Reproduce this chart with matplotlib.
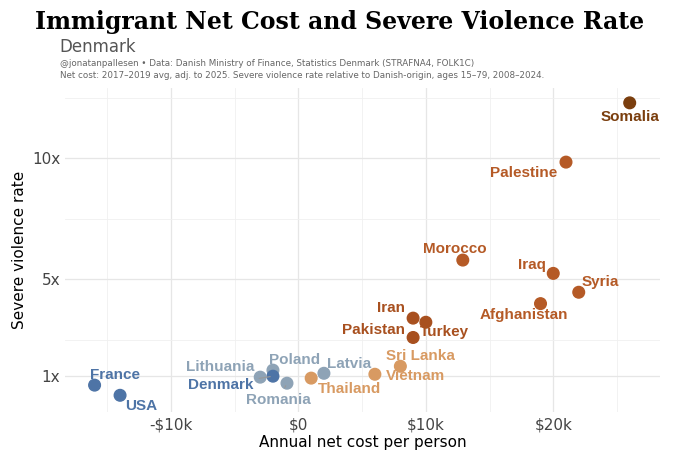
import matplotlib.pyplot as plt
from matplotlib.ticker import FuncFormatter, MultipleLocator

paises = ["Somalia", "Palestine", "Morocco", "Iraq", "Syria", "Afghanistan", "Iran", "Turkey",
          "Pakistan", "Sri Lanka", "Vietnam", "Thailand", "Latvia", "Poland", "Denmark",
          "Lithuania", "Romania", "France", "USA"]
costo = [26.0, 21.0, 12.9, 20.0, 22.0, 19.0, 9.0, 10.0, 9.0, 8.0, 6.0, 1.0, 2.0, -2.0, -2.0,
         -3.0, -0.9, -16.0, -14.0]
violencia = [12.3, 9.85, 5.8, 5.25, 4.47, 4.0, 3.4, 3.23, 2.6, 1.41, 1.08, 0.92, 1.12, 1.25,
             1.0, 0.96, 0.71, 0.63, 0.21]

colores = ["#7a3e0e", "#b55a26", "#b55a26", "#b55a26", "#b55a26", "#b55a26", "#a8501f", "#a8501f",
           "#a8501f", "#d89a62", "#d89a62", "#d89a62", "#8ea3b6", "#8ea3b6", "#4e74a6",
           "#8ea3b6", "#8ea3b6", "#4e74a6", "#4e74a6"]
# desplazamientos de etiquetas (puntos), alineacion
offs = {"Somalia": (0, -5, "center", "top"), "Palestine": (-6, -3, "right", "top"),
        "Morocco": (-6, 3, "center", "bottom"), "Iraq": (-5, 1, "right", "bottom"),
        "Syria": (2, 2, "left", "bottom"), "Afghanistan": (-12, -3, "center", "top"),
        "Iran": (-6, 2, "right", "bottom"), "Turkey": (-4, -2, "left", "top"),
        "Pakistan": (-6, 0, "right", "bottom"), "Sri Lanka": (-10, 2, "left", "bottom"),
        "Vietnam": (8, -1, "left", "center"), "Thailand": (5, -3, "left", "top"),
        "Latvia": (2, 2, "left", "bottom"), "Poland": (-3, 2, "left", "bottom"),
        "Denmark": (-14, -6, "right", "center"), "Lithuania": (-4, 2, "right", "bottom"),
        "Romania": (-6, -7, "center", "top"), "France": (-3, 2, "left", "bottom"),
        "USA": (4, -3, "left", "top")}

fig = plt.figure(figsize=(6.8, 4.53), dpi=100)
ax = fig.add_axes([0.096, 0.09, 0.875, 0.715])
ax.scatter(costo, violencia, s=70, c=colores, zorder=3)
for p, x, y, c in zip(paises, costo, violencia, colores):
    dx, dy, ha, va = offs[p]
    kw = {}
    if p in ("Denmark", "Romania"):
        kw["arrowprops"] = dict(arrowstyle="-", color="#999999", lw=0.8)
    ax.annotate(p, (x, y), xytext=(dx, dy), textcoords="offset points", ha=ha, va=va,
                color=c, fontsize=11, fontweight="bold", fontfamily="Liberation Sans", **kw)

ax.set_xlim(-18.3, 28.4)
ax.set_ylim(-0.49, 12.9)
ax.set_xticks([-10, 0, 10, 20])
ax.xaxis.set_major_formatter(FuncFormatter(lambda v, _: "$0" if v == 0 else f"{'-' if v < 0 else ''}${abs(int(v))}k"))
ax.xaxis.set_minor_locator(MultipleLocator(5))
ax.set_yticks([1, 5, 10])
ax.set_yticklabels(["1x", "5x", "10x"])
ax.set_yticks([2.5, 7.5, 12.5], minor=True)
ax.grid(which="major", color="#e6e6e6", lw=0.9)
ax.grid(which="minor", color="#f0f0f0", lw=0.6)
ax.tick_params(which="both", length=0, labelsize=11, labelcolor="#444444")
for s in ax.spines.values():
    s.set_visible(False)
ax.set_xlabel("Annual net cost per person", fontsize=11, labelpad=2)
ax.set_ylabel("Severe violence rate", fontsize=11)

fig.text(0.5, 0.935, "Immigrant Net Cost and Severe Violence Rate", ha="center",
         fontsize=17, fontweight="bold", fontfamily="DejaVu Serif")
fig.text(0.088, 0.885, "Denmark", fontsize=12, color="#555555")
fig.text(0.088, 0.855, "@jonatanpallesen \u2022 Data: Danish Ministry of Finance, Statistics Denmark (STRAFNA4, FOLK1C)",
         fontsize=6.3, color="#666666")
fig.text(0.088, 0.828, "Net cost: 2017\u20132019 avg, adj. to 2025. Severe violence rate relative to Danish-origin, ages 15\u201379, 2008\u20132024.",
         fontsize=6.3, color="#666666")
fig.savefig("out.png", dpi=100)
